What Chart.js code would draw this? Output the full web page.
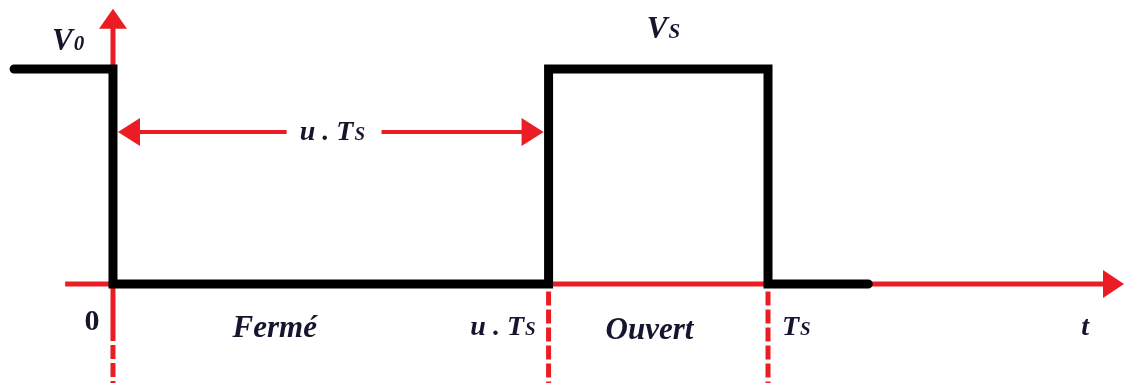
<!DOCTYPE html>
<html>
<head>
<meta charset="utf-8">
<script src="https://cdn.jsdelivr.net/npm/chart.js"></script>
<style>
  body { margin: 0; background: #fff; }
  #wrap { width: 1125px; height: 383px; position: relative; }
</style>
</head>
<body>
<div id="wrap"><canvas id="pwm"></canvas></div>
<script>
// switching signal (time in units of Ts, level normalised)
const signalT = [-0.151, 0, 0, 0.665, 0.665, 1, 1, 1.153];
const signalV = [1, 1, 0, 0, 1, 1, 0, 0];

// instants marked under the time axis
const markT = [0, 0.665, 1];
const markLabels = [['0', ''], ['u . T', 'S'], ['T', 'S']];
const phaseLabels = ['Fermé', 'Ouvert'];
const levelLabels = [['V', '0'], ['V', 'S']];

const RED = '#ec1c24';
const INK = '#15152e';
const FONT = '"Liberation Serif", "DejaVu Serif", serif';

function seg(x0, y0, x1, y1, width, dash) {
  return {
    data: [{ x: x0, y: y0 }, { x: x1, y: y1 }],
    borderColor: RED,
    borderWidth: width,
    borderDash: dash || [],
    pointRadius: 0,
    clip: false,
  };
}

const datasets = [{
  data: signalT.map((t, i) => ({ x: t, y: signalV[i] })),
  borderColor: '#000',
  borderWidth: 9,
  borderCapStyle: 'round',
  borderJoinStyle: 'miter',
  pointRadius: 0,
  tension: 0,
  clip: false,
}];

// axes
datasets.push(seg(-0.073, 0, 1.52, 0, 5));
datasets.push(seg(0, -0.2, 0, 1.2, 5));
// dashed guides below the axis
markT.forEach((t, i) => {
  datasets.push(seg(t, i === 0 ? -0.2 : -0.035, t, -0.47, 5, [14, 4]));
});
// u.Ts span arrow (gap left for its label)
const spanY = 0.707;
datasets.push(seg(markT[0] + 0.02, spanY, 0.265, spanY, 4));
datasets.push(seg(0.41, spanY, markT[1] - 0.02, spanY, 4));

function arrowHead(ctx, tipX, tipY, dx, dy, len, half) {
  // dx,dy = unit direction of arrow
  const bx = tipX - dx * len, by = tipY - dy * len;
  ctx.beginPath();
  ctx.moveTo(tipX, tipY);
  ctx.lineTo(bx - dy * half, by + dx * half);
  ctx.lineTo(bx + dy * half, by - dx * half);
  ctx.closePath();
  ctx.fill();
}

function subText(ctx, parts, x, y, size, align, upright) {
  const [main, sub] = parts;
  const style = upright ? 'bold ' : 'italic bold ';
  ctx.font = style + size + 'px ' + FONT;
  const w1 = ctx.measureText(main).width;
  ctx.font = style + Math.round(size * 0.68) + 'px ' + FONT;
  const w2 = sub ? ctx.measureText(sub).width + 1 : 0;
  let left = x;
  if (align === 'center') left = x - (w1 + w2) / 2;
  if (align === 'right') left = x - (w1 + w2);
  ctx.textAlign = 'left';
  ctx.textBaseline = 'alphabetic';
  ctx.font = style + size + 'px ' + FONT;
  ctx.fillText(main, left, y);
  if (sub) {
    ctx.font = style + Math.round(size * 0.68) + 'px ' + FONT;
    ctx.fillText(sub, left + w1 + 1, y);
  }
}

const decor = {
  id: 'decor',
  afterDatasetsDraw(chart) {
    const ctx = chart.ctx;
    const xs = chart.scales.x, ys = chart.scales.y;
    const px = v => xs.getPixelForValue(v);
    const py = v => ys.getPixelForValue(v);
    ctx.save();
    ctx.fillStyle = RED;
    // axis arrows
    arrowHead(ctx, px(1.545) - 1, py(0), 1, 0, 21, 14);
    arrowHead(ctx, px(0), py(1.28), 0, -1, 20, 14);
    // span arrow heads
    arrowHead(ctx, px(markT[0]) + 5, py(spanY), -1, 0, 22, 14);
    arrowHead(ctx, px(markT[1]) - 5, py(spanY), 1, 0, 22, 14);

    ctx.fillStyle = INK;
    // level labels
    subText(ctx, levelLabels[0], px(-0.093), py(1.088), 31, 'left');
    subText(ctx, levelLabels[1], px(0.815), py(1.144), 31, 'left');
    // span label
    subText(ctx, markLabels[1], px(0.335), py(0.672), 28, 'center');
    // instants
    subText(ctx, markLabels[0], px(markT[0]) - 21, py(-0.214), 30, 'center', true);
    subText(ctx, markLabels[1], px(markT[1]) - 13, py(-0.237), 28, 'right');
    subText(ctx, markLabels[2], px(markT[2]) + 14, py(-0.237), 28, 'left');
    // phases
    subText(ctx, [phaseLabels[0], ''], px(markT[0] + 0.247), py(-0.246), 31, 'center');
    subText(ctx, [phaseLabels[1], ''], px(markT[1] + 0.154), py(-0.256), 31, 'center');
    // time axis name
    subText(ctx, ['t', ''], px(1.484), py(-0.237), 28, 'center');
    ctx.restore();
  }
};

new Chart(document.getElementById('pwm'), {
  type: 'line',
  data: { datasets },
  options: {
    responsive: true,
    maintainAspectRatio: false,
    animation: false,
    layout: { padding: 0 },
    plugins: { legend: { display: false }, tooltip: { enabled: false } },
    scales: {
      x: { type: 'linear', min: -0.1725, max: 1.545, display: false },
      y: { type: 'linear', min: -0.4605, max: 1.3209, display: false },
    },
  },
  plugins: [decor],
});
</script>
</body>
</html>
